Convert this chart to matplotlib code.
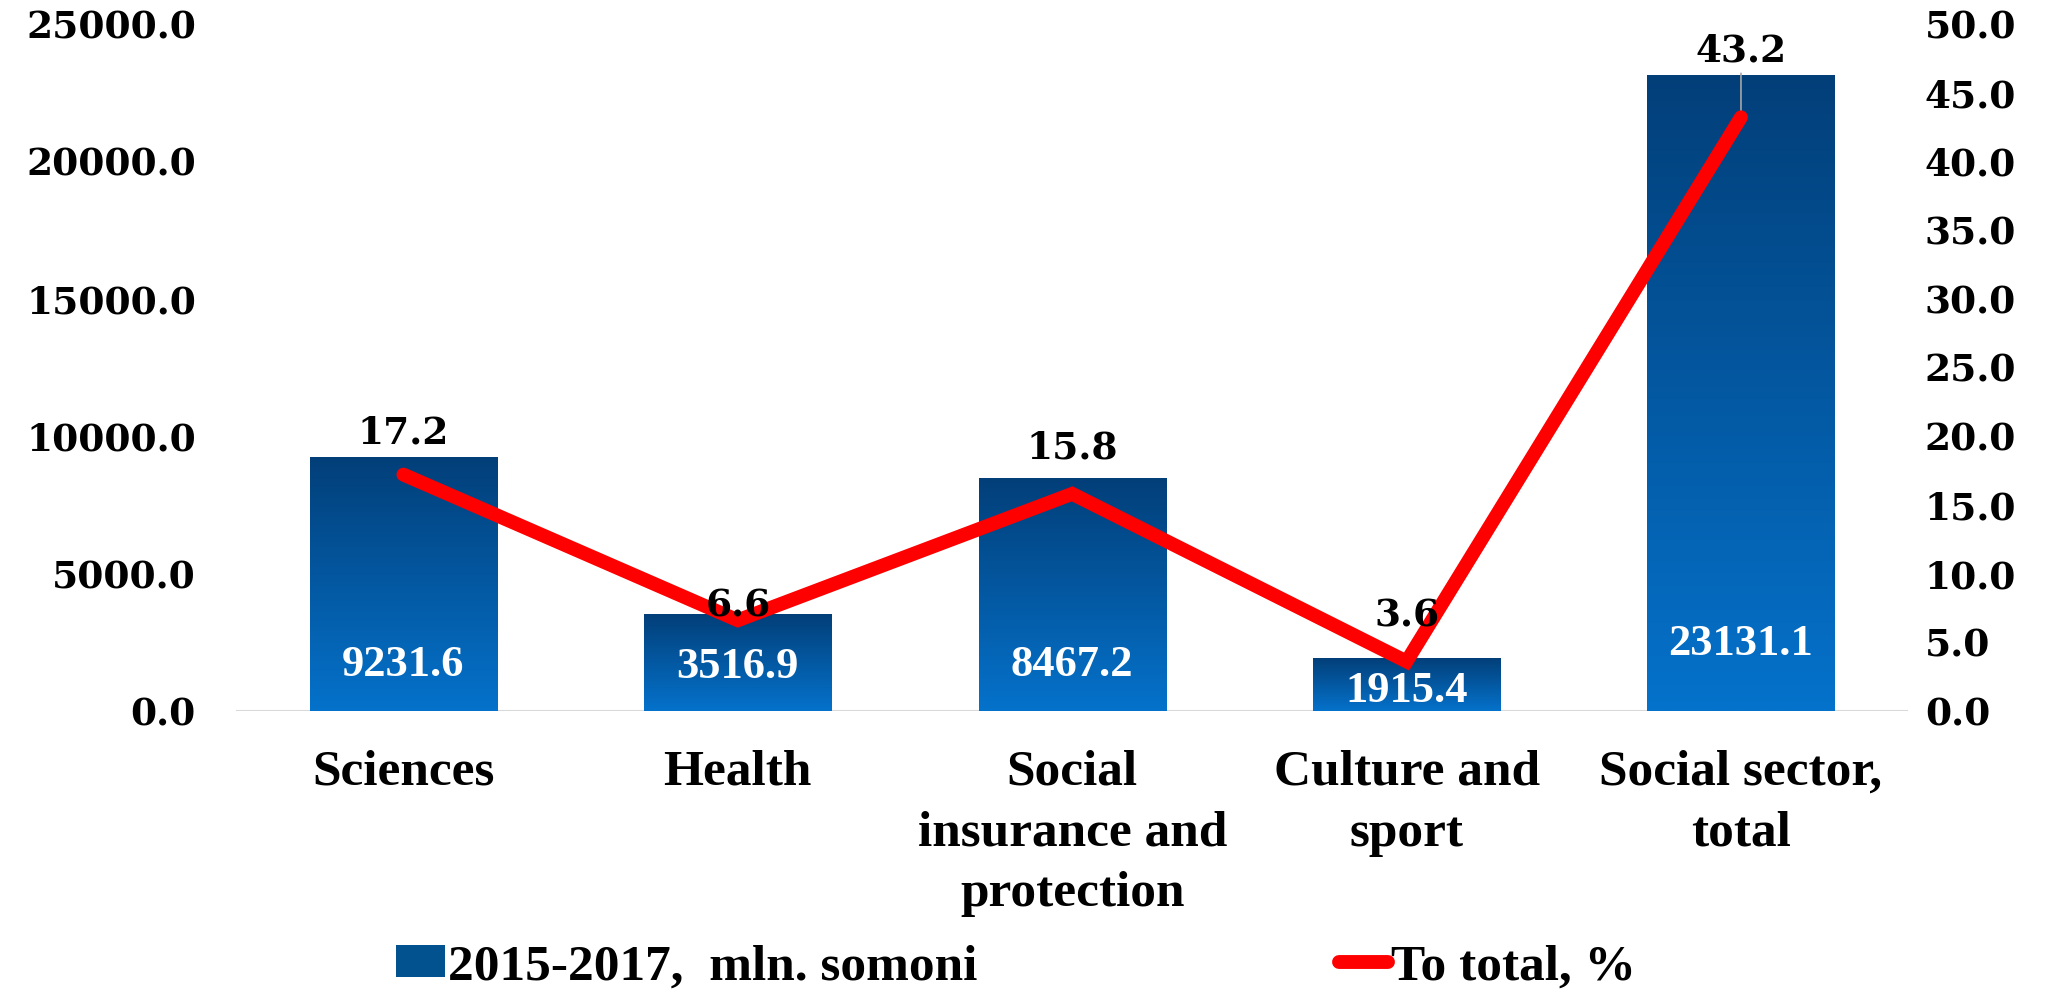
import numpy as np
import matplotlib
matplotlib.use("Agg")
import matplotlib.pyplot as plt
from matplotlib.patches import Patch
from matplotlib.lines import Line2D
from matplotlib.colors import LinearSegmentedColormap

categories = ["Sciences", "Health", "Social\ninsurance and\nprotection",
              "Culture and\nsport", "Social sector,\ntotal"]
amounts = [9231.6, 3516.9, 8467.2, 1915.4, 23131.1]      # 2015-2017, mln. somoni
shares = [17.2, 6.6, 15.8, 3.6, 43.2]                     # to total, %

bar_label = "2015-2017,  mln. somoni"
line_label = "To total, %"

SERIF = "DejaVu Serif"
NARROW = "Liberation Serif"

fig = plt.figure(figsize=(20.54, 9.93), dpi=100)
ax = fig.add_axes([0.115, 0.284, 0.814, 0.692])
ax2 = ax.twinx()

x = np.arange(len(categories))
bars = ax.bar(x, amounts, width=0.56, color="none", edgecolor="none", zorder=2)

# vertical gradient inside each bar: dark navy top -> brighter blue bottom
cmap = LinearSegmentedColormap.from_list("blu", ["#0572CB", "#023F79"])
grad = np.linspace(0, 1, 256).reshape(-1, 1)
for b in bars:
    x0, w, h = b.get_x(), b.get_width(), b.get_height()
    im = ax.imshow(grad, cmap=cmap, origin="lower", aspect="auto",
                   extent=(x0, x0 + w, 0, h), zorder=2)
    im.set_clip_path(b)

ax.set_xlim(-0.5, len(categories) - 0.5)
ax.set_ylim(0, 25000)
ax.set_yticks(np.arange(0, 25001, 5000))
ax.set_yticklabels([f"{v:.1f}" for v in np.arange(0, 25001, 5000)],
                   family=SERIF, fontweight="bold", fontsize=27)
ax.set_xticks(x)
ax.set_xticklabels(categories, family=NARROW, fontweight="bold", fontsize=37,
                   linespacing=1.42, va="top")
ax.tick_params(axis="x", length=0, pad=28)
ax.tick_params(axis="y", length=0, pad=29)
for s in ax.spines.values():
    s.set_visible(False)
ax.axhline(0, color="#D9D9D9", lw=1.5, zorder=1)

# value labels at the base of the bars (short bar label gets clipped, as in Excel)
bar_offsets = [46, 44, 46, 20, 67]
for xi, v, off in zip(x, amounts, bar_offsets):
    ax.annotate(f"{v:.1f}", (xi, 0), xytext=(0, off), textcoords="offset pixels",
                ha="center", va="center", color="white", family=NARROW,
                fontweight="bold", fontsize=32, zorder=3, clip_on=True)

# share line on the right axis
ax2.plot(x, shares, color="#FF0000", lw=10, solid_capstyle="round",
         solid_joinstyle="miter", zorder=4)
ax2.set_ylim(0, 50)
ax2.set_yticks(np.arange(0, 50.1, 5))
ax2.set_yticklabels([f"{v:.1f}" for v in np.arange(0, 50.1, 5)],
                    family=SERIF, fontweight="bold", fontsize=27)
ax2.tick_params(axis="y", length=0, pad=12)
for s in ax2.spines.values():
    s.set_visible(False)

label_offsets = [42, 14, 46, 46, 66]
for xi, v, off in zip(x, shares, label_offsets):
    ax2.annotate(f"{v:.1f}", (xi, v), xytext=(0, off), textcoords="offset pixels",
                 ha="center", va="center", color="black", family=SERIF,
                 fontweight="bold", fontsize=27, zorder=5)
# leader line for the last label
ax2.annotate("", (x[-1], shares[-1]), xytext=(0, 44), textcoords="offset pixels",
             arrowprops=dict(arrowstyle="-", color="#A6A6A6", lw=1.2,
                             shrinkA=0, shrinkB=0))

h1 = [Patch(facecolor="#02528F", edgecolor="none")]
h2 = [Line2D([0], [0], color="#FF0000", lw=10, solid_capstyle="round")]
leg_kw = dict(frameon=False, handlelength=0.95, handleheight=0.6, handletextpad=0.05,
              borderpad=0, borderaxespad=0,
              prop=dict(family=NARROW, weight="bold", size=37))
fig.legend(h1, [bar_label], loc="center left", bbox_to_anchor=(0.193, 0.026), **leg_kw)
fig.legend(h2, [line_label], loc="center left", bbox_to_anchor=(0.652, 0.026), **leg_kw)

fig.savefig("out.png", dpi=100)
